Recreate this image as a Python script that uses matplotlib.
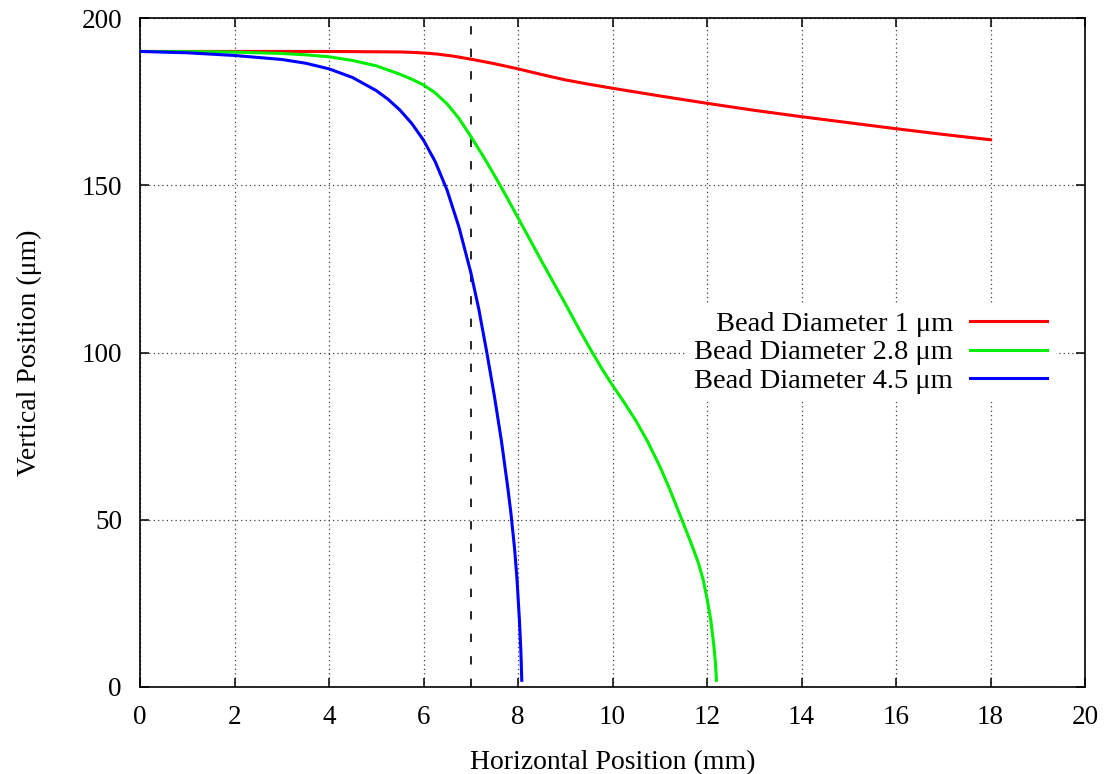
import matplotlib
matplotlib.use('Agg')
import matplotlib.pyplot as plt

plt.rcParams['font.family'] = ['Liberation Serif', 'DejaVu Serif']

# bead 1 um
x_1um = [0, 2, 4, 5, 5.5, 5.8, 6.1, 6.3, 6.63, 7, 7.48, 8, 8.5, 9, 9.5, 10, 11, 12, 13,
         14, 15, 16, 17, 18]
y_1um = [190, 190, 190, 189.9, 189.85, 189.7, 189.45, 189.2, 188.6, 187.7, 186.4, 184.8,
         183.1, 181.5, 180.2, 179.0, 176.7, 174.5, 172.4, 170.5, 168.7, 166.9, 165.2, 163.6]

# bead 2.8 um
x_28um = [0, 1, 2, 3, 3.5, 4, 4.5, 5, 5.5, 5.75, 6, 6.25, 6.5, 6.75, 7, 7.25, 7.5, 7.76,
          8, 8.5, 9, 9.3, 9.56, 9.8, 10, 10.25, 10.5, 10.75, 11, 11.2, 11.44, 11.65, 11.82,
          11.92, 12, 12.08, 12.14, 12.18, 12.2]
y_28um = [190, 189.95, 189.8, 189.4, 189.0, 188.4, 187.3, 185.7, 183.2, 181.7, 180.0,
          177.6, 174.3, 170.0, 164.6, 159.0, 153.0, 146.5, 140.3, 127.3, 114.6, 106.8,
          100.3, 94.6, 90.2, 85.0, 79.5, 73.2, 66.0, 59.5, 51.0, 43.5, 37.0, 32.0, 26.5,
          20, 13, 7, 2]

# bead 4.5 um
x_45um = [0, 1, 2, 3, 3.5, 4, 4.5, 5, 5.25, 5.5, 5.75, 6, 6.25, 6.5, 6.75, 7, 7.17,
          7.34, 7.5, 7.65, 7.78, 7.85, 7.93, 7.98, 8.03, 8.06, 8.08]
y_45um = [190, 189.6, 188.8, 187.6, 186.5, 184.8, 182.2, 178.3, 175.7, 172.5, 168.5,
          163.5, 157.0, 148.5, 137.5, 124, 113, 100, 87, 73.5, 60, 52, 41, 32, 20, 11, 2]

labels = ['Bead Diameter 1 \u03bcm', 'Bead Diameter 2.8 \u03bcm', 'Bead Diameter 4.5 \u03bcm']
colors = ['#ff0000', '#00ee00', '#0000ff']
x_ticks = list(range(0, 21, 2))
y_ticks = [0, 50, 100, 150, 200]
x_marker = 7

fig = plt.figure(figsize=(11.12, 7.74), dpi=100)
ax = fig.add_axes([140 / 1112, 87 / 774, 945 / 1112, 669 / 774])

ax.plot(x_1um, y_1um, color=colors[0], lw=2.2, label=labels[0], zorder=3)
ax.plot(x_28um, y_28um, color=colors[1], lw=2.2, label=labels[1], zorder=3)
ax.plot(x_45um, y_45um, color=colors[2], lw=2.2, label=labels[2], zorder=3)
ax.axvline(x_marker, color='black', lw=1.2, dashes=(5, 8.5), zorder=2)

ax.set_xlim(0, 20)
ax.set_ylim(0, 200)
ax.set_xticks(x_ticks)
ax.set_yticks(y_ticks)
ax.grid(True, color='0.25', lw=0.9, linestyle=(0, (1, 2.5)), zorder=1)
ax.tick_params(direction='in', top=True, right=True, length=6.5, width=1.1,
               labelsize=19.5, pad=13)
for s in ax.spines.values():
    s.set_linewidth(1.2)

ax.set_xlabel('Horizontal Position (mm)', fontsize=20)
ax.set_ylabel('Vertical Position (\u03bcm)', fontsize=20)
ax.xaxis.set_label_coords(0.5, -0.095)
ax.yaxis.set_label_coords(-0.104, 0.5)

leg = ax.legend(loc='center right', bbox_to_anchor=(0.969, 0.5), borderaxespad=0,
                borderpad=0.3, markerfirst=False, handlelength=2.7, handletextpad=0.6,
                labelspacing=0.08, fontsize=20.5, fancybox=False, framealpha=1)
leg.get_frame().set_edgecolor('none')
for t in leg.get_texts():
    t.set_ha('right')
leg.set_zorder(5)

fig.savefig('out.png', dpi=100)
